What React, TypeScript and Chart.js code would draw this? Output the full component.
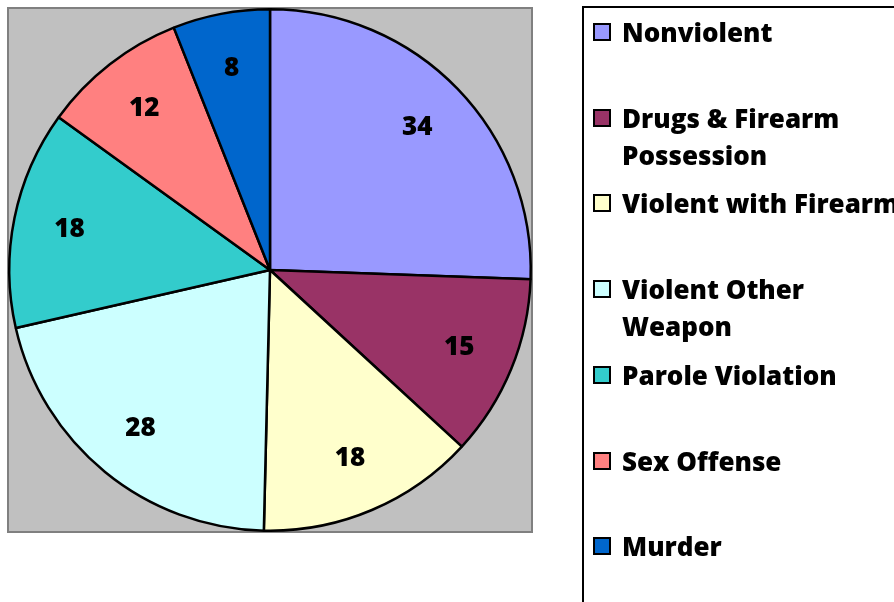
import React, { useEffect, useRef } from "react";
import { Chart, registerables } from "chart.js";

Chart.register(...registerables);

const categories: string[][] = [
  ["Nonviolent"],
  ["Drugs & Firearm", "Possession"],
  ["Violent with Firearm"],
  ["Violent Other", "Weapon"],
  ["Parole Violation"],
  ["Sex Offense"],
  ["Murder"],
];
const values: number[] = [34, 15, 18, 28, 18, 12, 8];
const colors: string[] = ["#9999FF", "#993366", "#FFFFCC", "#CCFFFF", "#33CCCC", "#FF8080", "#0066CC"];

const FONT = "'Open Sans', sans-serif";

const plotBg = {
  id: "plotBg",
  beforeDraw(chart: any) {
    const { ctx, chartArea } = chart;
    ctx.save();
    ctx.fillStyle = "#C0C0C0";
    ctx.fillRect(chartArea.left, chartArea.top, chartArea.width, chartArea.height);
    ctx.strokeStyle = "#808080";
    ctx.lineWidth = 2;
    ctx.strokeRect(chartArea.left, chartArea.top, chartArea.width, chartArea.height);
    ctx.restore();
  },
};

const valueLabels = {
  id: "valueLabels",
  afterDatasetsDraw(chart: any) {
    const { ctx } = chart;
    const meta = chart.getDatasetMeta(0);
    const data = chart.data.datasets[0].data;
    ctx.save();
    ctx.font = `800 26px ${FONT}`;
    ctx.fillStyle = "#000";
    ctx.textAlign = "center";
    ctx.textBaseline = "middle";
    meta.data.forEach((arc: any, i: number) => {
      const p = arc.getProps(["x", "y", "startAngle", "endAngle", "outerRadius"], true);
      const mid = (p.startAngle + p.endAngle) / 2;
      const d = p.outerRadius * 0.785;
      ctx.fillText(String(data[i]), p.x + Math.cos(mid) * d, p.y + Math.sin(mid) * d);
    });
    ctx.restore();
  },
};

export default function App() {
  const ref = useRef<HTMLCanvasElement>(null);
  useEffect(() => {
    document.body.style.margin = "0";
    document.body.style.overflow = "hidden";
    const chart = new Chart(ref.current!, {
      type: "pie",
      data: {
        labels: categories,
        datasets: [
          {
            data: values,
            backgroundColor: colors,
            borderColor: "#000",
            borderWidth: 2.5,
          },
        ],
      },
      options: {
        animation: false,
        responsive: false,
        layout: { padding: { left: 8, top: 8, right: 362, bottom: 70 } },
        plugins: { legend: { display: false }, tooltip: { enabled: false } },
      },
      plugins: [plotBg, valueLabels],
    });
    return () => chart.destroy();
  }, []);

  return (
    <div style={{ position: "fixed", left: 0, top: 0, width: 894, height: 602, overflow: "hidden", background: "#fff" }}>
      <canvas ref={ref} width={894} height={602} style={{ position: "absolute", left: 0, top: 0 }} />
      <div
        style={{
          position: "absolute",
          left: 582,
          top: 6,
          width: 400,
          height: 700,
          border: "2px solid #000",
          boxSizing: "border-box",
          fontFamily: FONT,
          fontWeight: 800,
          fontSize: 26,
        }}
      >
        {categories.map((lines, i) => (
          <div
            key={i}
            style={{ position: "absolute", left: 9, top: 6 + i * 85.7, display: "flex", alignItems: "flex-start", whiteSpace: "nowrap" }}
          >
            <div
              style={{
                width: 18,
                height: 18,
                marginTop: 9,
                marginRight: 11,
                background: colors[i],
                border: "2px solid #000",
                boxSizing: "border-box",
              }}
            />
            <div style={{ lineHeight: "37px" }}>
              {lines.map((l, j) => (
                <div key={j}>{l}</div>
              ))}
            </div>
          </div>
        ))}
      </div>
    </div>
  );
}
